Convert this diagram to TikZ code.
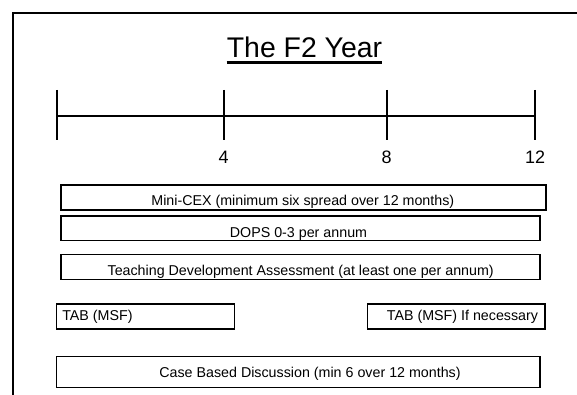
\documentclass[tikz,border=0pt]{standalone}
\usepackage{fontspec}
\setmainfont{Liberation Sans}
\begin{document}
\begin{tikzpicture}[x=0.75pt,y=-0.75pt,
  frameline/.style={line width=1.5pt},
  axisline/.style={line width=1.5pt},
  box/.style={draw, line width=0.8pt, inner sep=0pt, minimum height=18.75pt},
  lbl/.style={inner sep=0pt, font=\fontsize{10.7}{12}\selectfont},
  ticklbl/.style={inner sep=0pt, font=\fontsize{13.5}{15}\selectfont}]
\useasboundingbox (0,0) rectangle (577,394);
\clip (0,0) rectangle (577,394);
\fill[white] (0,0) rectangle (577,394);
% outer frame (cropped at right and bottom)
\coordinate (fb) at (12.7,400);
\coordinate (ftl) at (12.7,13.3);
\coordinate (ftr) at (590,13.3);
\draw[frameline] (fb) -- (ftl) -- (ftr);
% title
\node[anchor=base, inner sep=0pt, font=\fontsize{21.3}{24}\selectfont] (title) at (304.5,57.3) {The F2 Year};
\draw[line width=1.9pt] ([yshift=-4pt]title.base west) -- ([yshift=-4pt]title.base east);
% timeline
\coordinate (t0) at (57.3,115.7);
\coordinate (t4) at (223.7,115.7);
\coordinate (t8) at (386.7,115.7);
\coordinate (t12) at (535,115.7);
\draw[axisline] (t0) -- (t12);
\foreach \t in {t0,t4,t8,t12}
  \draw[axisline] ([yshift=19.3pt]\t) -- ([yshift=-18.2pt]\t);
\node[ticklbl] (l4) at (223.7,157.3) {4};
\node[ticklbl] (l8) at (386.7,157.3) {8};
\node[ticklbl] (l12) at (535,157.3) {12};
% boxes
\node[box, minimum width=363.75pt] (mini) at (303.5,197.5) {};
\node[lbl, anchor=base] (minit) at (302.8,205.7) {Mini-CEX (minimum six spread over 12 months)};
\node[box, minimum width=359.25pt, minimum height=18.5pt] (dops) at (300.5,228.35) {};
\node[lbl, anchor=base] (dopst) at (298.5,237.3) {DOPS 0-3 per annum};
\node[box, minimum width=359.25pt] (teach) at (300.5,266.8) {};
\node[lbl, anchor=base] (teacht) at (300.7,275.7) {Teaching Development Assessment (at least one per annum)};
\node[box, minimum width=133.2pt] (tab) at (145.5,316.5) {};
\node[lbl, anchor=base west] (tabt) at (62,320.7) {TAB (MSF)};
\node[box, minimum width=133.3pt] (tabn) at (456.15,316.5) {};
\node[lbl, anchor=base east] (tabnt) at (538.3,320.7) {TAB (MSF) If necessary};
\node[box, minimum width=362.5pt, minimum height=22.95pt] (case) at (298.35,372) {};
\node[lbl, anchor=base] (caset) at (310,377.3) {Case Based Discussion (min 6 over 12 months)};
\end{tikzpicture}
\end{document}
